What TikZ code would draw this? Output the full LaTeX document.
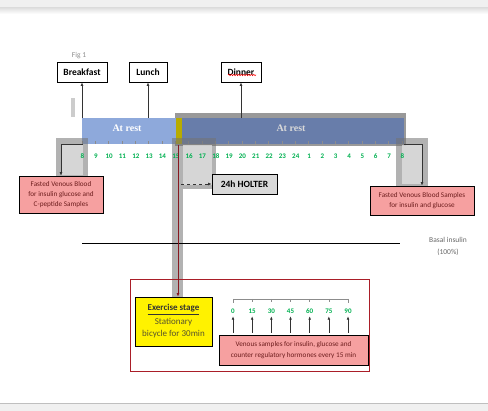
\documentclass[tikz,border=0pt]{standalone}
\usepackage{fontspec}
\setmainfont{Carlito}
\newfontfamily\restfont{Liberation Serif}
\usetikzlibrary{arrows.meta,calc,positioning,decorations.pathmorphing}
\definecolor{RestLight}{RGB}{142,169,219}
\definecolor{RestDark}{RGB}{104,125,170}
\definecolor{StartOlive}{RGB}{184,172,0}
\definecolor{SamplePink}{RGB}{246,160,160}
\definecolor{SampleText}{RGB}{110,30,30}
\definecolor{HourGreen}{RGB}{0,176,80}
\definecolor{FrameRed}{RGB}{170,30,40}
\definecolor{StripGray}{RGB}{240,240,240}

\tikzset{
  mealbox/.style={draw=black, line width=0.7pt, fill=white, minimum height=20pt, inner sep=1pt, font=\fontsize{9.5}{10}\selectfont\bfseries},
  samplebox/.style={draw=black, line width=0.7pt, fill=SamplePink, align=center, text=SampleText, inner sep=1pt, font=\fontsize{7.2}{10.3}\selectfont},
  hour/.style={text=HourGreen, font=\fontsize{7}{7}\selectfont\bfseries, inner sep=0pt, text height=5pt, text depth=0pt},
  upto/.style={-{Latex[length=3.5pt,width=2.8pt]}, line width=0.7pt, black!80},
  shadowout/.style={fill=black!55, fill opacity=0.55},
  shadowin/.style={fill=black!12, fill opacity=0.8}
}

\begin{document}
\begin{tikzpicture}[x=1pt, y=-1pt, font=\fontsize{7}{8}\selectfont]
  \useasboundingbox (0,0) rectangle (488,411);

  % Window strips
  \fill[StripGray] (0,0) rectangle (488,8);
  \shade[top color=black!12, bottom color=white] (0,8) rectangle (488,14);
  \fill[StripGray] (0,403) rectangle (488,411);
  \draw[black!25, line width=0.8pt] (0,403) -- (488,403);

  \node[text=black!45, font=\fontsize{7.5}{8}\selectfont] (fig) at (79,56) {Fig 1};
  \fill[black!20] (71,98) rectangle (75,117);

  % Rest bars
  \fill[black!40] (175,113) rectangle (406,146);
  \fill[RestLight] (82,118) rectangle (176,144);
  \fill[StartOlive] (176,118) rectangle (182,144);
  \fill[RestDark] (182,118) rectangle (404,144);
  \node[text=white, font=\restfont\fontsize{10}{10}\selectfont\bfseries] (restA) at (127,128.5) {At rest};
  \node[text=black!15, font=\restfont\fontsize{10}{10}\selectfont\bfseries] (restB) at (291,128.5) {At rest};
  \foreach \i in {0,...,24}
    \draw[black!45, line width=0.6pt] ({82+13.33*\i},141.5) -- ({82+13.33*\i},144);

  % Meals
  \node[mealbox, minimum width=50pt] (bfast) at (82,72) {Breakfast};
  \node[mealbox, minimum width=38pt] (lunch) at (148,72) {Lunch};
  \node[mealbox, minimum width=40pt] (dinner) at (241,72) {Dinner};
  \draw[red, line width=0.5pt, decorate, decoration={snake, amplitude=0.7pt, segment length=2.5pt}]
    ($(dinner.center)+(-13,3)$) -- ($(dinner.center)+(15,3)$);
  \coordinate (mB) at (82,118);
  \coordinate (mL) at (148,118);
  \coordinate (mD) at (241,118);
  \draw[upto] (mB) -- (bfast.south);
  \draw[upto] (mL) -- (lunch.south);
  \draw[upto] (mD) -- (dinner.south);

  % Sampling shadows
  \fill[shadowout] (56,138) rectangle (88,180);
  \fill[shadowin] (62,144) rectangle (83,175);
  \fill[shadowout] (396,138) rectangle (428,187);
  \fill[shadowin] (402,145) rectangle (422,184);
  \fill[shadowout] (172,138) rectangle (183,300);
  \fill[shadowout] (183,138) rectangle (216,189);
  \fill[shadowin] (183,145) rectangle (212,185);

  % Hour labels
  \foreach \h [count=\i from 0] in {8,9,10,11,12,13,14,15,16,17,18,19,20,21,22,23,24,1,2,3,4,5,6,7,8}
    \node[hour] (hr\i) at ({82.5+13.33*\i},156) {\h};

  % Fasting samples
  \node[samplebox, minimum width=84pt, minimum height=37pt] (fastL) at (61,194.5)
    {Fasted Venous Blood\\for insulin glucose and\\C-peptide Samples};
  \node[samplebox, minimum width=104pt, minimum height=29pt] (fastR) at (422,200.5)
    {Fasted Venous Blood Samples\\for insulin and glucose};
  \coordinate (sL) at (83,144.5);
  \coordinate (sR) at (404,144.5);
  \draw[upto] (sL) -| (fastL.north);
  \draw[upto] (sR) -| (fastR.north);

  % Holter
  \node[draw=black, line width=0.7pt, fill=black!15, minimum width=65pt, minimum height=20pt, inner sep=1pt,
        font=\fontsize{9.5}{10}\selectfont\bfseries] (holter) at (244.5,184) {24h HOLTER};
  \coordinate (hst) at (178,145);
  \draw[upto, dashed] (hst) |- (holter.west);

  % Basal insulin
  \coordinate (bA) at (82,243);
  \coordinate (bB) at (400,243);
  \draw[black, line width=0.8pt] (bA) -- (bB);
  \node[text=black!60, align=center, font=\fontsize{7.5}{12}\selectfont] (basal) at (448,246) {Basal insulin\\(100\%)};

  % Exercise stage
  \draw[FrameRed, line width=0.7pt] (130,279) rectangle (369,371);
  \node[draw=black, line width=0.7pt, fill=yellow, minimum width=77pt, minimum height=49pt, inner sep=1pt,
        align=center, text=black!50!olive, font=\fontsize{9}{12}\selectfont] (exercise) at (173.5,321.5)
    {\textcolor{black!80}{\bfseries\underline{Exercise stage}}\\[2pt]Stationary\\bicycle for 30min};
  \draw[FrameRed!80!black, line width=0.7pt, -{Latex[length=3.5pt,width=2.8pt]}] (hst) -- (hst |- exercise.north);

  % Venous samples every 15 min
  \node[samplebox, minimum width=149pt, minimum height=30pt] (venous) at (293.5,350)
    {Venous samples for insulin, glucose and\\counter regulatory hormones every 15 min};
  \draw[black!45, line width=0.6pt] (233,303) -- (233,299) -- (348,299) -- (348,303);
  \foreach \m [count=\i from 0] in {0,15,30,45,60,75,90} {
    \draw[black!45, line width=0.6pt] ({233+19.17*\i},299) -- ({233+19.17*\i},302);
    \node[hour] (min\i) at ({233+19.17*\i},311) {\m};
    \draw[upto] ([yshift=2pt]venous.north -| min\i) -- ([yshift=-2.5pt]min\i.south);
  }
\end{tikzpicture}
\end{document}
